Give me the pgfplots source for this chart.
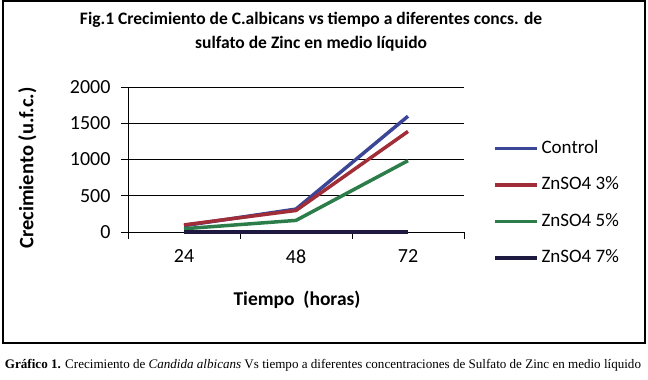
\documentclass[border=0pt]{standalone}
\usepackage{fontspec}
\setmainfont{Carlito}
\newfontfamily\capfont{Liberation Serif}
\usepackage{pgfplots}
\pgfplotsset{compat=1.18}
\definecolor{cblue}{RGB}{60,70,150}
\definecolor{cred}{RGB}{160,45,55}
\definecolor{cgreen}{RGB}{45,125,75}
\definecolor{cnavy}{RGB}{30,25,65}
\begin{document}
\begin{tikzpicture}[x=1pt,y=1pt]
\path[use as bounding box] (0,0) rectangle (648,380);
\draw[line width=2pt] (3,37) rectangle (645,379);
\begin{axis}[
  at={(128pt,148pt)}, anchor=south west,
  scale only axis, width=336pt, height=145pt,
  xmin=-0.5, xmax=2.5, ymin=0, ymax=2000,
  axis x line*=bottom, axis y line*=left,
  axis line style={black, line width=0.8pt},
  xtick={-0.5,0.5,1.5,2.5}, xticklabels={},
  extra x ticks={0,1,2}, extra x tick labels={24,48,72},
  extra x tick style={major tick length=0pt},
  ytick={0,500,1000,1500,2000},
  ymajorgrids, major grid style={black, line width=0.8pt},
  tick align=outside, major tick length=7pt,
  tick style={black, line width=0.8pt},
  /pgf/number format/assume math mode=true,
  /pgf/number format/1000 sep={},
  ticklabel style={font=\fontsize{20}{22}\selectfont},
  xticklabel style={yshift=-14pt},
  yticklabel style={xshift=-7pt},
  clip=false,
  title={Fig.1 Crecimiento de C.albicans vs tiempo a diferentes concs. de\\sulfato de Zinc en medio líquido},
  title style={font=\bfseries\fontsize{17.5}{24}\selectfont, align=center, at={(axis description cs:0.545,1.338)}, anchor=center},
  xlabel={Tiempo\ \ (horas)},
  xlabel style={font=\bfseries\fontsize{19.5}{22}\selectfont, at={(axis description cs:0.503,-0.469)}, anchor=center},
  ylabel={Crecimiento (u.f.c.)},
  ylabel style={font=\bfseries\fontsize{20.5}{22}\selectfont, at={(axis description cs:-0.30,0.441)}, anchor=center},
  legend style={draw=none, fill=none, at={(1.077,0.648)}, anchor=north west,
    font=\fontsize{19}{22}\selectfont, row sep=19.5pt, column sep=3pt,
    nodes={inner sep=0pt, text height=13pt, text depth=4pt}},
  legend cell align=left,
  legend image code/.code={\draw[#1] (0pt,0pt) -- (42pt,0pt);},
]
\addplot[cblue, line width=3.5pt] coordinates {(0,87) (1,316) (2,1597)};
\addlegendentry{Control}
\addplot[cred, line width=3.5pt] coordinates {(0,98) (1,297) (2,1387)};
\addlegendentry{ZnSO4 3\%}
\addplot[cgreen, line width=3.5pt] coordinates {(0,45) (1,160) (2,984)};
\addlegendentry{ZnSO4 5\%}
\addplot[cnavy, line width=3.5pt] coordinates {(0,2) (1,2) (2,2)};
\addlegendentry{ZnSO4 7\%}
\end{axis}
\node[font=\capfont] at (323,15) {\resizebox{636pt}{!}{\textbf{Gráfico 1.} Crecimiento de \textit{Candida albicans} Vs tiempo a diferentes concentraciones de Sulfato de Zinc en medio líquido}};
\end{tikzpicture}
\end{document}
